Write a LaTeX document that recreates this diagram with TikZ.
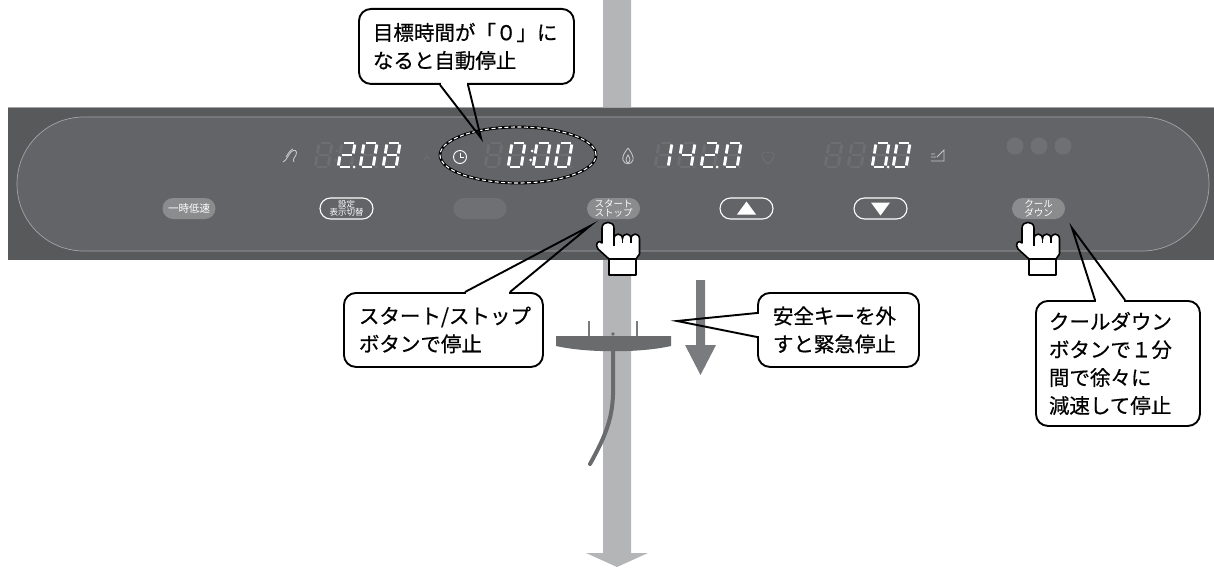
\documentclass[tikz,border=0pt]{standalone}
\usepackage{fontspec}
\newfontfamily\jp{Noto Sans CJK JP}
\newfontfamily\jpnote[FakeBold=0.6]{Noto Sans CJK JP}
\usetikzlibrary{calc}
\usetikzlibrary{shapes.geometric}

\definecolor{panelout}{HTML}{58595B}
\definecolor{panelin}{HTML}{636467}
\definecolor{panelline}{HTML}{A3A4A6}
\definecolor{segoffc}{HTML}{6D6E71}
\definecolor{btngray}{HTML}{8B8C8E}
\definecolor{blankgray}{HTML}{6F7073}
\definecolor{icongray}{HTML}{C4C5C7}
\definecolor{shaft}{HTML}{B4B5B7}
\definecolor{keygray}{HTML}{6A6B6D}
\definecolor{arrowgray}{HTML}{7A7B7E}

% one seven segment digit, #1 = top left corner, #2 = lit segments
\newcommand\segdigit[2]{%
  \begin{scope}[shift={#1}, xslant=0.16]
    \foreach \sn/\ax/\ay/\bx/\by in {a/1.5/0/11.5/0, b/13/1.5/13/10.5,
        c/13/13.5/13/22.5, d/1.5/24/11.5/24, e/0/13.5/0/22.5,
        f/0/1.5/0/10.5, g/1.5/12/11.5/12}{
      \draw[segoff] (\ax,\ay) -- (\bx,\by);
      \foreach \sl in {#2}{%
        \edef\segA{\sn}\edef\segB{\sl}%
        \ifx\segA\segB \draw[segon] (\ax,\ay) -- (\bx,\by); \fi}
    }
  \end{scope}}
\newcommand\segdot[2]{\fill[#2] #1 circle (1.5);}

% hand pointing up, fingertip at the origin
\newcommand\pointinghand{%
  \draw[handline] (-6,6) .. controls (-6,-1.5) and (6,-1.5) .. (6,6)
    -- (6,17) .. controls (6,10.5) and (14.5,10.5) .. (14.5,17)
    .. controls (14.5,10.5) and (23,10.5) .. (23,17)
    .. controls (23,10.5) and (31.5,10.5) .. (31.5,17)
    -- (31.5,32) -- (28,37) -- (28,53) -- (1,53) -- (1,37)
    -- (-10,27) .. controls (-14,22) and (-9,17) .. (-6,21) -- cycle;
  \draw[line width=1.6pt] (1,37) -- (28,37);
  \draw[line width=1.2pt] (14.5,17) -- (14.5,21) (23,17) -- (23,21) (6,17) -- (6,24);
}

\begin{document}
\begin{tikzpicture}[x=1pt, y=-1pt,
  segon/.style={white, line width=2.9pt},
  segoff/.style={segoffc, line width=2.9pt},
  balloon/.style={draw, line width=1.9pt, rounded corners=12pt, fill=white,
    anchor=north west, align=left, inner ysep=0pt,
    font=\jpnote\fontsize{20.5}{28}\selectfont},
  tail/.style={line width=1.9pt},
  pill/.style={rounded corners=10.5pt, minimum width=53pt, minimum height=21pt,
    inner sep=0pt, align=center, text=white},
  pillfill/.style={pill, fill=btngray},
  pillline/.style={pill, draw=white, line width=1.1pt},
  iconline/.style={draw=icongray, line width=0.9pt},
  handline/.style={draw=black, fill=white, line width=1.6pt, line join=round}]

\useasboundingbox (0,0) rectangle (1214,567);

% shaft and big arrow
\fill[shaft] (603,0) -- (631,0) -- (631,553) -- (648,553) -- (617,567)
  -- (586,553) -- (603,553) -- cycle;

% console
\node[fill=panelout, minimum width=1206pt, minimum height=152pt, inner sep=0pt]
  (panel) at (611,184) {};
\node[fill=panelin, draw=panelline, line width=0.7pt, rounded corners=66.9pt,
  minimum width=1192pt, minimum height=134pt, inner sep=0pt] (face) at (613,184) {};
\draw[panelline, line width=0.6pt] (panel.north west) -- (panel.north east);

% displays
\segdigit{(319,143)}{}
\segdigit{(342,143)}{a,b,g,e,d}
\segdigit{(364,143)}{a,b,c,d,e,f}
\segdigit{(387,143)}{a,b,c,d,e,f,g}
\segdot{(354,167)}{white}
\segdot{(376,167)}{segoffc}
\segdot{(399,167)}{segoffc}
\segdot{(337,151)}{segoffc}
\segdot{(335.5,160)}{segoffc}

\segdigit{(489,143)}{}
\segdigit{(512,143)}{a,b,c,d,e,f}
\segdigit{(537,143)}{a,b,c,d,e,f}
\segdigit{(559,143)}{a,b,c,d,e,f}
\segdot{(532,151)}{white}
\segdot{(530.5,160)}{white}
\segdot{(571,167)}{segoffc}

\segdigit{(659,143)}{b,c}
\segdigit{(682,143)}{f,g,b,c}
\segdigit{(705,143)}{a,b,g,e,d}
\segdigit{(728,143)}{a,b,c,d,e,f}
\segdot{(694,167)}{segoffc}
\segdot{(717,167)}{white}
\segdot{(740,167)}{segoffc}

\segdigit{(829,143)}{}
\segdigit{(852,143)}{}
\segdigit{(876,143)}{a,b,c,d,e,f}
\segdigit{(897,143)}{a,b,c,d,e,f}
\segdot{(872,151)}{segoffc}
\segdot{(870.5,160)}{segoffc}
\segdot{(888,167)}{white}
\segdot{(909,167)}{segoffc}

% icons
\draw[iconline] (283,162) .. controls (287,160) and (288,155) .. (291,152)
  .. controls (294,149) and (298,150) .. (296,155) .. controls (295,158) and (292,159) .. (294,162);
\draw[iconline] (286,157) .. controls (288,154) and (290,150) .. (293,149);
\draw[segoffc, line width=0.9pt] (424,161) .. controls (425,156) and (429,155) .. (429,159) (427,155) -- (427,153);
\draw[white, line width=0.9pt] (460,157) circle (6.5);
\draw[white, line width=0.9pt] (460,152.5) -- (460,157) -- (463.5,157);
\draw[iconline] (628,148) .. controls (624,153) and (622,157) .. (623,160)
  .. controls (624,165) and (632,165) .. (633,160) .. controls (634,157) and (631,152) .. (628,148);
\draw[iconline] (628,163) .. controls (625,161) and (626,158) .. (628,155)
  .. controls (630,158) and (631,161) .. (628,163);
\draw[segoffc, line width=1pt] (768,164) .. controls (759,157) and (761,149) .. (768,153)
  .. controls (775,149) and (777,157) .. (768,164);
\draw[iconline] (931,161) -- (944,161) -- (944,150) -- (937,157) (931,157) -- (936,157) (931,154) -- (935,154);

\foreach \cx in {1015,1039,1063}
  \fill[blankgray] (\cx,146) circle (8.5);

% time target
\node[ellipse, minimum width=156pt, minimum height=56pt, inner sep=0pt,
  draw=black, line width=2.8pt,
  postaction={draw=white, line width=1.1pt, dash pattern=on 4pt off 2.5pt}]
  (timer) at (518,155) {};

% buttons
\node[pillfill, font=\jp\fontsize{10.5}{11}\selectfont] (slow) at (189,208.5) {一時低速};
\node[pillline, font=\jp\fontsize{8.5}{8.5}\selectfont] (dispsw) at (346.5,208.5) {設定\\表示切替};
\node[pill, fill=blankgray] (blank) at (480,208.5) {};
\node[pillfill, font=\jp\fontsize{9.5}{9}\selectfont] (startstop) at (613.5,208.5) {スタート\\ストップ};
\node[pillline] (up) at (746.5,208.5) {};
\node[pillline] (down) at (880.5,208.5) {};
\node[pillfill, font=\jp\fontsize{9.5}{9}\selectfont] (cool) at (1038.5,208.5) {クール\\ダウン};
\fill[white] ($(up.center)+(-9.5,6)$) -- ($(up.center)+(9.5,6)$) -- ($(up.center)+(0,-7)$) -- cycle;
\fill[white] ($(down.center)+(-9.5,-6)$) -- ($(down.center)+(9.5,-6)$) -- ($(down.center)+(0,7)$) -- cycle;

% safety key
\fill[keygray] (556,336) -- (671,336) -- (671,346) .. controls (640,353) and (587,353) .. (556,346) -- cycle;
\draw[arrowgray, line width=1.2pt] (589,321) -- (589,336) (637,321) -- (637,336);
\fill[keygray] (613,334) circle (1.8);
\draw[keygray, line width=4pt, line cap=round] (613,350) -- (613,395)
  .. controls (612,420) and (605,437) .. (590,464);
\fill[arrowgray] (696,280) -- (705,280) -- (705,345) -- (716,345) -- (700.5,375)
  -- (685,345) -- (696,345) -- cycle;

% hands
\begin{scope}[shift={(608,222)}]
  \pointinghand
\end{scope}
\begin{scope}[shift={(1028,222)}]
  \pointinghand
\end{scope}

% callouts
\node[balloon, text width=187pt, inner xsep=14pt, minimum height=75pt] (zeronote) at (358,8)
  {目標時間が「０」に\\なると自動停止};
\coordinate (zerotip) at (481,138);
\fill[white] ($(zeronote.south west)+(83,-2.5)$) rectangle ($(zeronote.south west)+(109,2.5)$);
\draw[tail] ($(zeronote.south west)+(82,0)$) -- (zerotip) -- ($(zeronote.south west)+(110,0)$);

\node[balloon, text width=169pt, inner xsep=15pt, minimum height=74pt] (stopnote) at (343,292)
  {スタート/ストップ\\ボタンで停止};
\coordinate (stoptip) at (590,226);
\fill[white] ($(stopnote.north west)+(123,-2.5)$) rectangle ($(stopnote.north west)+(166,2.5)$);
\draw[tail] ($(stopnote.north west)+(122,0)$) -- (stoptip) -- ($(stopnote.north west)+(167,0)$);

\node[balloon, text width=131pt, inner xsep=15pt, minimum height=74pt] (keynote) at (757,292)
  {安全キーを外\\すと緊急停止};
\coordinate (keytip) at (677,321);
\fill[white] ($(keynote.north west)+(-2.5,22)$) rectangle ($(keynote.north west)+(2.5,44)$);
\draw[tail] ($(keynote.north west)+(0,21)$) -- (keytip) -- ($(keynote.north west)+(0,45)$);

\node[balloon, text width=138pt, inner xsep=13pt, minimum height=125pt] (coolnote) at (1035,300)
  {クールダウン\\ボタンで１分\\間で徐々に\\減速して停止};
\coordinate (cooltip) at (1072,228);
\fill[white] ($(coolnote.north west)+(61,-2.5)$) rectangle ($(coolnote.north west)+(89,2.5)$);
\draw[tail] ($(coolnote.north west)+(60,0)$) -- (cooltip) -- ($(coolnote.north west)+(90,0)$);

\end{tikzpicture}
\end{document}
